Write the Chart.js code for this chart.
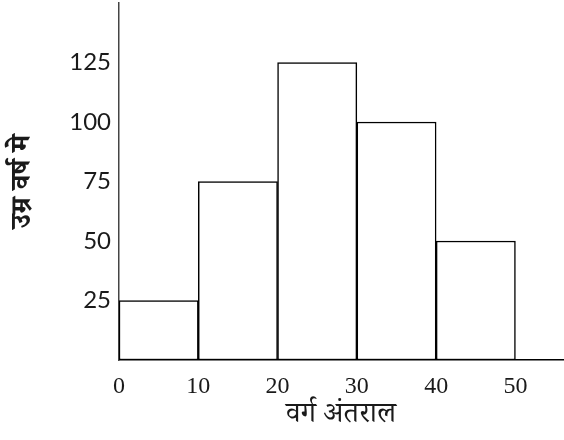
<!DOCTYPE html>
<html>
<head>
<meta charset="utf-8">
<script src="https://cdn.jsdelivr.net/npm/chart.js@4"></script>
<style>
  body { margin: 0; background: #fff; }
  #wrap { width: 564px; height: 440px; }
</style>
</head>
<body>
<div id="wrap"><canvas id="histChart"></canvas></div>
<script>
// Histogram data
const classStarts = [0, 10, 20, 30, 40];
const classWidth = 10;
const frequencies = [25, 75, 125, 100, 50];
const xTickValues = [0, 10, 20, 30, 40, 50];
const yTickValues = [25, 50, 75, 100, 125];

const xTitle = 'वर्ग अंतराल';
const yTitle = 'उम्र वर्ष मे';

const barPoints = classStarts.map((s, i) => ({ x: s + classWidth / 2, y: frequencies[i] }));

const ctx = document.getElementById('histChart').getContext('2d');

new Chart(ctx, {
    type: 'bar',
    data: {
        datasets: [{
            data: barPoints,
            backgroundColor: '#ffffff',
            borderColor: '#000000',
            borderWidth: 1.5,
            borderSkipped: false,
            barPercentage: 1,
            categoryPercentage: 1
        }]
    },
    options: {
        responsive: true,
        maintainAspectRatio: false,
        animation: false,
        layout: { padding: { top: 3, right: 1, left: 0, bottom: 0 } },
        plugins: {
            legend: { display: false },
            tooltip: { enabled: false }
        },
        scales: {
            x: {
                type: 'linear',
                min: 0,
                max: 56,
                offset: false,
                grid: { display: false, drawTicks: false, offset: false },
                border: { display: true, color: '#000', width: 1.5 },
                afterBuildTicks: scale => { scale.ticks = xTickValues.map(v => ({ value: v })); },
                afterFit: scale => { scale.height = 80; scale.paddingLeft = 0; scale.paddingRight = 0; },
                ticks: {
                    padding: 12,
                    color: '#1a1a1a',
                    font: { family: "'Liberation Serif', serif", size: 24 }
                },
                title: {
                    display: true,
                    text: xTitle,
                    color: '#1a1a1a',
                    padding: { top: 0, bottom: 3 },
                    font: { family: "'Noto Serif Devanagari', 'Noto Sans Devanagari', 'Noto Sans', serif", size: 29 }
                }
            },
            y: {
                min: 0,
                max: 150,
                grid: { display: false, drawTicks: false },
                border: { display: true, color: '#444', width: 1.5 },
                afterBuildTicks: scale => { scale.ticks = yTickValues.map(v => ({ value: v })); },
                afterFit: scale => { scale.width = 119; scale.paddingTop = 0; scale.paddingBottom = 0; },
                ticks: {
                    padding: 8,
                    color: '#1a1a1a',
                    font: { family: "Lato, 'Open Sans', sans-serif", size: 24 }
                },
                title: {
                    display: true,
                    text: yTitle,
                    color: '#1a1a1a',
                    padding: { top: 10 },
                    font: { family: "'Noto Serif Devanagari', 'Noto Sans Devanagari', 'Noto Sans', serif", size: 28, weight: 'bold' }
                }
            }
        }
    }
});
</script>
</body>
</html>
